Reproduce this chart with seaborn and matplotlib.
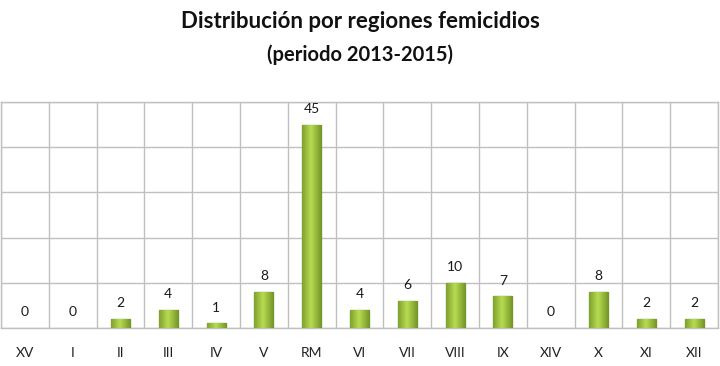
import numpy as np
import pandas as pd
import matplotlib
matplotlib.use("Agg")
import matplotlib.pyplot as plt
import seaborn as sns

# datos
regiones = ["XV", "I", "II", "III", "IV", "V", "RM", "VI", "VII", "VIII", "IX", "XIV", "X", "XI", "XII"]
casos = [0, 0, 2, 4, 1, 8, 45, 4, 6, 10, 7, 0, 8, 2, 2]

df = pd.DataFrame({"region": regiones, "casos": casos})

sns.set_style("white")
plt.rcParams["font.family"] = ["Lato", "DejaVu Sans"]

fig = plt.figure(figsize=(7.2, 3.66), dpi=100)
ax = fig.add_axes([1 / 720, 1 - 328 / 366, 717 / 720, 226 / 366])

sns.barplot(data=df, x="region", y="casos", color="#8fb832", width=0.4,
            edgecolor="#4f6e14", linewidth=0.9, saturation=1, ax=ax, zorder=3)

# degradado en cada barra
grad = np.linspace(0, 1, 64)
prof = 1 - np.abs(grad - 0.45) * 1.4
img = np.zeros((2, 64, 3))
c_osc = np.array([0.36, 0.50, 0.10])
c_cla = np.array([0.72, 0.86, 0.32])
for i in range(64):
    img[:, i, :] = c_osc + (c_cla - c_osc) * max(prof[i], 0)
for p in ax.patches:
    x0, y0 = p.get_x(), p.get_y()
    w, h = p.get_width(), p.get_height()
    if h <= 0:
        p.set_visible(False)
        continue
    im = ax.imshow(img, extent=[x0, x0 + w, y0, y0 + h], aspect="auto", zorder=3.5, interpolation="bilinear")
    im.set_clip_path(p)

ax.set_ylim(0, 50)
ax.set_xlim(-0.5, len(regiones) - 0.5)
ax.set_yticks([0, 10, 20, 30, 40, 50])
ax.set_yticklabels([])
ax.set_xticks(np.arange(len(regiones) + 1) - 0.5, minor=True)
ax.grid(True, which="minor", axis="x", color="#c0c0c0", lw=1, zorder=0)
ax.grid(True, which="major", axis="y", color="#c0c0c0", lw=1, zorder=0)
ax.tick_params(axis="x", which="both", length=0, labelsize=10, colors="#222222", pad=14)
ax.tick_params(axis="y", length=0)
ax.set_xlabel("")
ax.set_ylabel("")
for s in ax.spines.values():
    s.set_color("#c0c0c0")
    s.set_linewidth(1)

for i, v in enumerate(casos):
    ax.annotate(str(v), (i, v), xytext=(0, 7), textcoords="offset points",
                ha="center", va="bottom", fontsize=10, color="#1a1a1a")

fig.text(0.5, 1 - 21 / 366, "Distribución por regiones femicidios", ha="center", va="center",
         fontsize=16, fontweight="bold", color="#111111")
fig.text(0.5, 1 - 55 / 366, "(periodo 2013-2015)", ha="center", va="center",
         fontsize=14.5, fontweight="bold", color="#111111")

fig.savefig("out.png", dpi=100)
